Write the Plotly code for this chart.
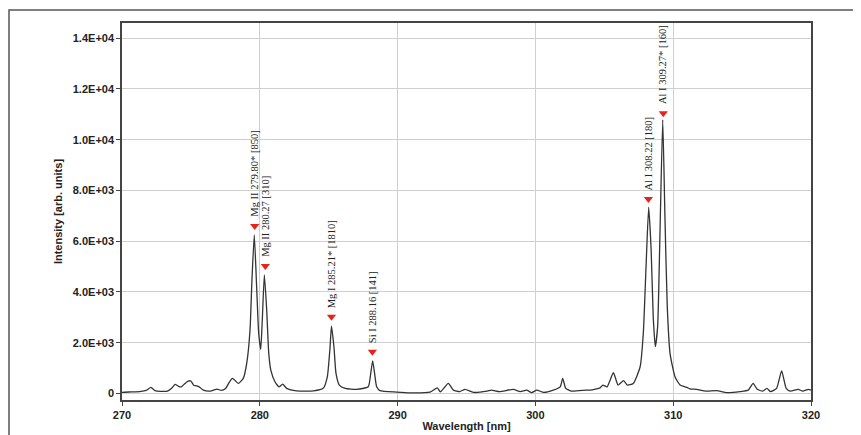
import plotly.graph_objects as go

# spectrum (wavelength in nm, intensity in arb. units)
wavelength = [
    270.0, 270.5, 271.0, 271.5, 271.8, 272.1, 272.4, 272.8, 273.3, 273.6,
    273.85, 274.1, 274.3, 274.55, 274.8, 275.0, 275.2, 275.4, 275.6, 275.9,
    276.4, 276.9, 277.2, 277.5, 277.8, 278.0, 278.15, 278.44, 278.8, 279.05,
    279.29, 279.43, 279.6, 279.77, 279.92, 280.07, 280.18, 280.33, 280.5, 280.65,
    280.8, 281.1, 281.4, 281.66, 281.95, 282.68, 283.9, 284.6, 284.9, 285.1,
    285.2, 285.38, 285.53, 285.77, 286.2, 287.03, 287.87, 288.05, 288.19, 288.33,
    288.48, 288.72, 289.93, 290.9, 292.35, 292.88, 293.1, 293.68, 294.05, 294.5,
    294.9, 295.5, 296.5, 296.8, 297.4, 298.4, 298.9, 299.37, 299.73, 300.1,
    300.6, 301.3, 301.8, 301.98, 302.2, 302.6, 303.7, 304.0, 304.7, 304.9,
    305.2, 305.66, 306.0, 306.4, 306.67, 307.1, 307.6, 307.83, 308.03, 308.22,
    308.4, 308.55, 308.7, 308.87, 309.04, 309.24, 309.4, 309.57, 309.77, 310.13,
    310.5, 311.0, 311.2, 311.7, 312.4, 313.16, 313.9, 314.85, 315.45, 315.8,
    316.1, 316.5, 316.8, 317.07, 317.5, 317.87, 318.2, 318.5, 319.07, 319.4,
    319.8, 320.0,
]
intensity = [
    40, 55, 60, 90, 130, 235, 110, 80, 90, 200,
    355, 280, 260, 380, 485, 490, 325, 300, 260, 130,
    90, 170, 120, 180, 450, 590, 540, 395, 590, 1180,
    2500, 4470, 6245, 4200, 2370, 1735, 2890, 4667, 3290, 1580,
    920, 460, 260, 365, 200, 100, 100, 200, 655, 1840,
    2655, 1840, 790, 330, 200, 160, 260, 790, 1286, 790,
    260, 110, 50, 20, 50, 220, 60, 395, 130, 70,
    160, 40, 90, 130, 70, 160, 70, 130, 30, 130,
    40, 130, 260, 590, 200, 90, 130, 130, 220, 330,
    260, 815, 330, 500, 330, 390, 1050, 2370, 5000, 7337,
    5650, 3020, 1840, 2630, 6300, 10780, 6970, 3420, 1580, 655,
    330, 235, 180, 160, 90, 110, 30, 70, 130, 395,
    160, 90, 200, 70, 200, 890, 200, 90, 160, 90,
    160, 130,
]

# identified lines: marker position and label
line_labels = [
    "Mg II 279.80* [850]",
    "Mg II 280.27 [310]",
    "Mg I 285.21* [1810]",
    "Si I 288.16 [141]",
    "Al I 308.22 [180]",
    "Al I 309.27* [160]",
]
line_wl = [279.63, 280.4, 285.2, 288.17, 308.2, 309.28]
line_marker_y = [6600, 5020, 3020, 1640, 7660, 11040]

y_ticks = [0, 2000, 4000, 6000, 8000, 10000, 12000, 14000]
y_ticktext = ["0", "2.0E+03", "4.0E+03", "6.0E+03", "8.0E+03", "1.0E+04", "1.2E+04", "1.4E+04"]
x_ticks = [270, 280, 290, 300, 310, 320]

x_range = [270, 320]
y_range = [-260, 14600]

fig = go.Figure()
fig.add_trace(go.Scatter(
    x=wavelength, y=intensity, mode="lines",
    line=dict(color="#333333", width=1.3, shape="spline", smoothing=0.5),
    showlegend=False, hoverinfo="skip",
))
fig.add_trace(go.Scatter(
    x=line_wl, y=line_marker_y, mode="markers",
    marker=dict(symbol="triangle-down", color="#e8231c", size=8),
    showlegend=False, hoverinfo="skip",
))

for lab, wl, ym in zip(line_labels, line_wl, line_marker_y):
    fig.add_annotation(
        x=wl, y=ym, text=lab, textangle=-90, showarrow=False,
        xanchor="center", yanchor="bottom", yshift=7,
        font=dict(family="Liberation Serif", size=10.5, color="#222222"),
    )

axis_font = dict(family="Liberation Sans", size=11, color="#222222", weight="bold")

# the page body adds an 8px margin, so the figure is 8px smaller than the window
fig.update_layout(
    width=853, height=427,
    margin=dict(l=114, r=50, t=15, b=35),
    paper_bgcolor="white", plot_bgcolor="white",
    xaxis=dict(
        range=x_range, tickvals=x_ticks, ticks="outside", ticklen=4,
        tickcolor="#444444", tickfont=axis_font, automargin=False,
        showgrid=True, gridcolor="#cfcfcf", gridwidth=1, zeroline=False,
        showline=True, linecolor="#444444", linewidth=1.5, mirror=True,
        title=dict(text="Wavelength [nm]", font=axis_font, standoff=2),
    ),
    yaxis=dict(
        range=y_range, tickvals=y_ticks, ticktext=y_ticktext, ticks="outside",
        ticklen=4, tickcolor="#444444", tickfont=axis_font, automargin=False,
        showgrid=True, gridcolor="#cfcfcf", gridwidth=1, zeroline=False,
        showline=True, linecolor="#444444", linewidth=1.5, mirror=True,
        title=dict(text="Intensity [arb. units]", font=axis_font, standoff=8),
    ),
    xaxis2=dict(
        overlaying="x", side="top", range=x_range, tickvals=x_ticks,
        ticks="inside", ticklen=5, tickcolor="#444444", showticklabels=False,
        showgrid=False, zeroline=False, automargin=False,
    ),
    yaxis2=dict(
        overlaying="y", side="right", range=y_range, tickvals=y_ticks,
        ticks="inside", ticklen=5, tickcolor="#444444", showticklabels=False,
        showgrid=False, zeroline=False, automargin=False,
    ),
)

# outer frame of the original figure, cropped on the right and bottom
fig.add_shape(
    type="rect", xref="paper", yref="paper",
    x0=(1 - 114) / 689, x1=2.0, y0=-1.0, y1=1 + 13 / 377,
    line=dict(color="#555555", width=1.5), fillcolor="rgba(0,0,0,0)",
)

fig.write_html("out.html")
